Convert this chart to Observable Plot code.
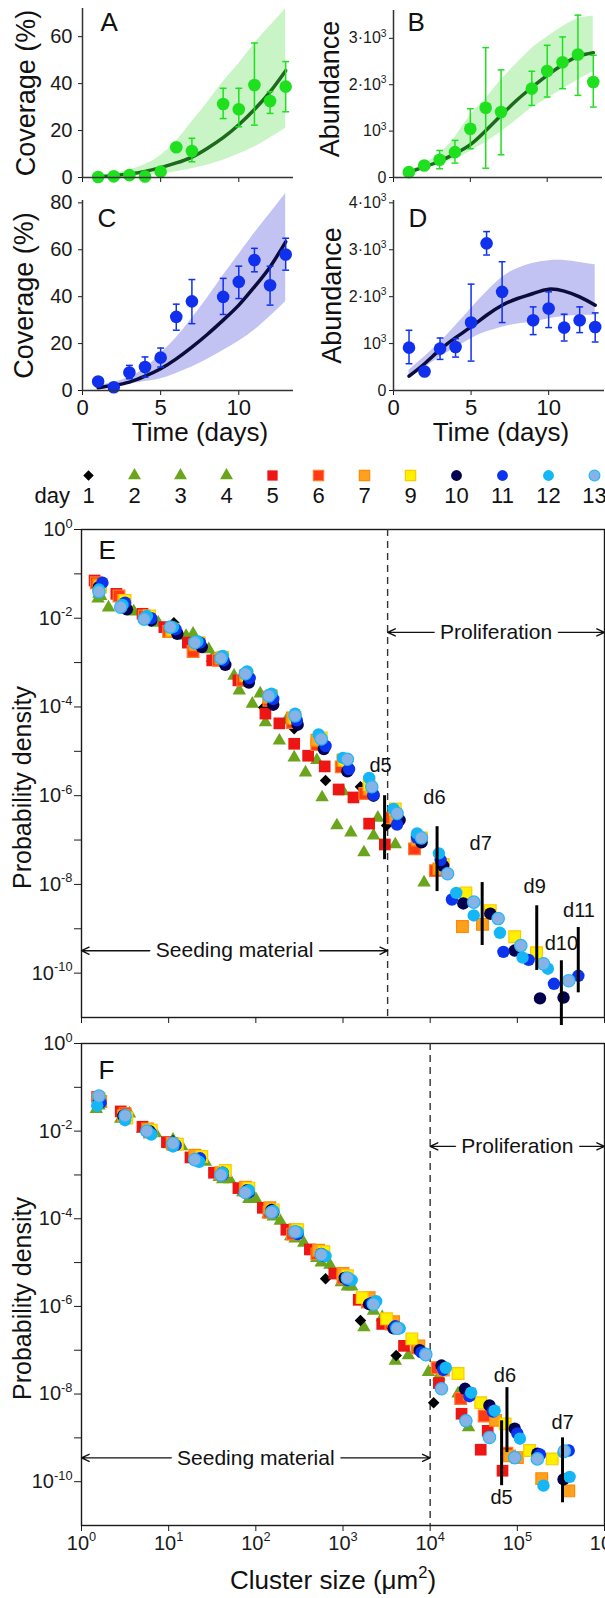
<!DOCTYPE html>
<html><head><meta charset="utf-8">
<script src="https://cdn.jsdelivr.net/npm/d3@7"></script>
<script src="https://cdn.jsdelivr.net/npm/@observablehq/plot@0.6"></script>
<style>
html,body{margin:0;padding:0;background:#fff;overflow:hidden;}
#chart{position:relative;width:605px;height:1598px;font-family:'Liberation Sans',Arial,Helvetica,sans-serif;}
#chart svg{position:absolute;overflow:visible;}
</style></head><body><div id="chart"></div>
<script>
// ---------------- DATA: growth panels (A-D) ----------------
const obsDays = [1,2,3,4,5,6,7,9,10,11,12,13];
const fitDays = [1,2,3,4,5,6,7,8,9,10,11,12,13];

const A_obs = [0.2, 0.5, 1.0, 0.4, 2.5, 12.9, 11.3, 31.3, 29.1, 39.4, 32.6, 38.7];
const A_hi  = [0.2, 0.5, 1.0, 0.4, 2.5, 12.9, 16.7, 38, 38, 57.3, 36.6, 49.4];
const A_lo  = [0.2, 0.5, 1.0, 0.4, 2.5, 12.9, 6.7, 25.1, 21.6, 22.3, 27.3, 28];
const A_fit = [0.3, 0.8, 1.5, 2.6, 4.2, 6.2, 8.7, 12.5, 17, 22.5, 29, 36.5, 45.5];
const A_up  = [0.8, 1.8, 3.2, 5.5, 9.4, 15.5, 23.7, 32, 40.8, 48.5, 57, 64.5, 72];
const A_low = [0, 0.3, 0.7, 1.0, 1.4, 2.4, 3.7, 5.3, 7.3, 10, 13, 16.8, 21];

const B_obs = [115, 259, 382, 547, 1051, 1505, 1411, 1915, 2296, 2484, 2650, 2058];
const B_hi  = [115, 300, 583, 800, 1483, 2800, 2320, 2290, 2850, 3030, 3500, 2635];
const B_lo  = [115, 220, 188, 310, 620, 200, 490, 1555, 1735, 1915, 1770, 1518];
const B_fit = [115, 230, 350, 515, 710, 1010, 1340, 1660, 1940, 2200, 2430, 2610, 2690];
const B_up  = [130, 300, 520, 870, 1340, 1700, 2100, 2450, 2780, 3030, 3250, 3420, 3480];
const B_low = [100, 190, 280, 400, 560, 760, 980, 1240, 1500, 1700, 1900, 2100, 2280];

const C_obs = [3.85, 1.4, 7.7, 10, 14, 31.4, 38, 39.9, 46.3, 55.6, 44.9, 58];
const C_hi  = [3.85, 1.4, 10.7, 14.3, 18.1, 36.8, 47.3, 47.8, 53, 60.6, 53, 64.9];
const C_lo  = [3.85, 1.4, 5.0, 5.7, 10, 25.7, 28.5, 32.4, 39.2, 50.6, 36.4, 51.3];
const C_fit = [1.2, 2.2, 3.6, 6.1, 9.3, 13.5, 18.5, 24, 30, 36.4, 44.2, 52.7, 63.4];
const C_up  = [2, 3.5, 5.7, 9.5, 15.7, 22.5, 30.7, 39.5, 49, 58, 67, 75.5, 84];
const C_low = [0.8, 1.5, 2.7, 3.8, 5, 7.3, 10, 13.3, 17.1, 21, 25.7, 31.5, 37.8];

const D_obs = [913, 406, 892, 927, 1448, 3137, 2103, 1497, 1747, 1341, 1497, 1355];
const D_hi  = [1283, 480, 1119, 1105, 2267, 3387, 2745, 1782, 2103, 1626, 1782, 1654];
const D_lo  = [571, 330, 663, 712, 627, 2888, 1448, 1191, 1341, 1055, 1234, 1034];
const D_fit = [306, 571, 870, 1127, 1355, 1604, 1818, 1961, 2068, 2160, 2118, 1996, 1818];
const D_up  = [430, 720, 1030, 1380, 1750, 2100, 2410, 2600, 2710, 2765, 2770, 2730, 2680];
const D_low = [250, 480, 713, 910, 1105, 1250, 1350, 1420, 1460, 1530, 1580, 1600, 1600];

const covTicksA = [0, 20, 40, 60];
const covTicksC = [0, 20, 40, 60, 80];
const abuTicksB = [0, 1000, 2000, 3000];
const abuTicksD = [0, 1000, 2000, 3000, 4000];
const timeTicks = [0, 5, 10];

// ---------------- DATA: legend / size distributions (E, F) ----------------
const dayLabels = ["1","2","3","4","5","6","7","9","10","11","12","13"];
// points are [log10(cluster size µm²), log10(probability density)]
const E_day1  = [[0.2,-1.35],[0.46,-1.7],[0.73,-1.98],[1.06,-2.1],[1.36,-2.62],[1.62,-2.95],[1.85,-3.3],[2.09,-4.01],[2.44,-4.49],[2.8,-5.66],[3.2,-5.8],[3.5,-6.67]];
const E_day2  = [[0.19,-1.56],[0.31,-1.76],[0.6,-1.85],[0.88,-2.1],[1.28,-2.35],[1.5,-2.9],[1.81,-3.63],[2.11,-4.35],[2.44,-5.14],[2.76,-6.04],[3.09,-6.83],[3.35,-6.9]];
const E_day3  = [[0.2,-1.45],[0.5,-1.7],[0.78,-2.0],[1.05,-2.25],[1.35,-2.6],[1.62,-2.95],[1.96,-3.93],[2.27,-4.76],[2.57,-5.48],[2.93,-6.67],[3.24,-7.28],[3.6,-7.1]];
const E_day4  = [[0.22,-1.5],[0.55,-1.8],[0.85,-2.1],[1.2,-2.4],[1.46,-2.7],[1.75,-3.3],[2.05,-3.7],[2.35,-4.3],[2.7,-5.2],[3.0,-5.9],[3.4,-6.5],[3.93,-7.96]];
const E_day5  = [[0.15,-1.15],[0.4,-1.45],[0.7,-1.9],[0.95,-2.2],[1.22,-2.55],[1.5,-2.95],[1.8,-3.4],[2.11,-4.15],[2.27,-4.37],[2.44,-4.83],[2.6,-5.1],[2.79,-5.34],[2.95,-5.86],[3.12,-6.04],[3.3,-6.63],[3.48,-7.1]];
const E_day6  = [[0.17,-1.2],[0.43,-1.5],[0.72,-1.95],[1.0,-2.3],[1.28,-2.75],[1.57,-2.95],[1.85,-3.4],[2.15,-3.85],[2.42,-4.35],[2.7,-4.85],[2.98,-5.35],[3.25,-5.95],[3.55,-6.5],[3.82,-7.2],[4.06,-7.69]];
const E_day7  = [[0.2,-1.25],[0.48,-1.6],[0.76,-2.0],[1.03,-2.3],[1.3,-2.6],[1.6,-2.9],[1.88,-3.3],[2.15,-3.78],[2.42,-4.25],[2.7,-4.75],[3.0,-5.2],[3.3,-5.85],[3.6,-6.5],[3.85,-7.0],[4.1,-7.65],[4.37,-8.95],[4.6,-8.9]];
const E_day9  = [[0.22,-1.3],[0.5,-1.6],[0.78,-1.95],[1.05,-2.25],[1.35,-2.55],[1.62,-2.88],[1.9,-3.3],[2.18,-3.75],[2.45,-4.25],[2.75,-4.7],[3.02,-5.2],[3.3,-5.75],[3.6,-6.3],[3.9,-6.95],[4.15,-7.55],[4.41,-8.19],[4.69,-8.59],[4.97,-9.18],[5.22,-9.54]];
const E_day10 = [[0.2,-1.3],[0.52,-1.8],[0.8,-2.05],[1.1,-2.35],[1.38,-2.65],[1.65,-3.05],[1.92,-3.45],[2.2,-3.95],[2.48,-4.4],[2.78,-4.95],[3.05,-5.45],[3.35,-6.0],[3.65,-6.55],[3.9,-7.05],[4.15,-7.58],[4.38,-8.43],[4.69,-8.66],[4.97,-9.49],[5.26,-10.57],[5.53,-10.55]];
const E_day11 = [[0.24,-1.2],[0.5,-1.65],[0.8,-2.0],[1.08,-2.25],[1.36,-2.55],[1.63,-2.95],[1.93,-3.35],[2.2,-3.82],[2.47,-4.3],[2.8,-4.88],[3.07,-5.4],[3.35,-5.98],[3.62,-6.65],[3.85,-6.95],[4.12,-7.45],[4.25,-8.34],[4.84,-9.52],[5.13,-9.7],[5.42,-10.24],[5.7,-10.06]];
const E_day12 = [[0.2,-1.35],[0.47,-1.7],[0.75,-1.95],[1.05,-2.2],[1.33,-2.52],[1.62,-2.85],[1.9,-3.2],[2.18,-3.7],[2.45,-4.15],[2.72,-4.62],[3.0,-5.15],[3.3,-5.6],[3.58,-6.3],[3.85,-6.85],[4.1,-7.3],[4.3,-8.19],[4.5,-8.7],[4.8,-9.09],[5.06,-9.65],[5.35,-9.9]];
const E_day13 = [[0.2,-1.4],[0.45,-1.75],[0.72,-2.02],[1.02,-2.2],[1.3,-2.55],[1.6,-2.9],[1.88,-3.25],[2.15,-3.75],[2.45,-4.2],[2.75,-4.72],[3.05,-5.18],[3.33,-5.8],[3.62,-6.4],[3.9,-6.95],[4.2,-7.76],[4.5,-8.4],[4.78,-8.77],[5.04,-9.38],[5.3,-9.79],[5.59,-10.17]];

const F_day1  = [[0.2,-1.4],[0.5,-1.58],[0.75,-1.95],[1.05,-2.22],[1.32,-2.6],[1.6,-2.95],[1.85,-3.3],[2.12,-3.8],[2.4,-4.3],[2.8,-5.37],[3.2,-6.32],[3.61,-7.12],[4.04,-8.2]];
const F_day2  = [[0.17,-1.5],[0.45,-1.72],[0.7,-1.95],[1.0,-2.3],[1.28,-2.6],[1.58,-3.05],[1.85,-3.4],[2.14,-3.9],[2.4,-4.4],[2.7,-4.9],[2.98,-5.45],[3.24,-6.48],[3.6,-7.24]];
const F_day3  = [[0.2,-1.42],[0.48,-1.65],[0.8,-2.0],[1.05,-2.2],[1.35,-2.65],[1.62,-3.1],[1.92,-3.55],[2.2,-3.95],[2.45,-4.45],[2.75,-5.0],[3.05,-5.55],[3.35,-6.1],[3.75,-7.12],[3.98,-7.5]];
const F_day4  = [[0.22,-1.38],[0.55,-1.6],[0.85,-2.05],[1.15,-2.35],[1.42,-2.7],[1.7,-3.1],[2.0,-3.55],[2.28,-4.05],[2.55,-4.55],[2.85,-5.05],[3.1,-5.55],[3.45,-6.25],[3.85,-6.95],[4.1,-7.6],[4.32,-7.99],[4.44,-8.76]];
const F_day5  = [[0.18,-1.22],[0.45,-1.55],[0.7,-1.9],[0.98,-2.25],[1.25,-2.6],[1.52,-2.95],[1.8,-3.3],[2.08,-3.75],[2.35,-4.25],[2.62,-4.7],[2.9,-5.25],[3.18,-5.85],[3.45,-6.4],[3.7,-6.9],[4.1,-7.75],[4.36,-8.45],[4.58,-9.27],[4.66,-8.84],[4.83,-9.75]];
const F_day6  = [[0.2,-1.28],[0.5,-1.6],[0.78,-2.02],[1.05,-2.3],[1.32,-2.62],[1.6,-2.98],[1.88,-3.35],[2.15,-3.85],[2.42,-4.35],[2.7,-4.8],[3.0,-5.35],[3.28,-5.9],[3.55,-6.4],[3.85,-6.95],[4.08,-7.4],[4.35,-8.1],[4.62,-8.5],[4.88,-9.35]];
const F_day7  = [[0.22,-1.32],[0.48,-1.65],[0.76,-1.95],[1.04,-2.28],[1.3,-2.55],[1.6,-2.95],[1.88,-3.28],[2.16,-3.75],[2.45,-4.25],[2.72,-4.72],[3.0,-5.25],[3.3,-5.8],[3.58,-6.35],[3.87,-6.9],[4.15,-7.45],[4.45,-8.0],[4.75,-8.6],[4.91,-9.41],[5.0,-9.45],[5.28,-9.93],[5.59,-10.21]];
const F_day9  = [[0.2,-1.25],[0.52,-1.7],[0.8,-1.98],[1.1,-2.3],[1.38,-2.58],[1.65,-2.9],[1.92,-3.3],[2.2,-3.8],[2.48,-4.25],[2.78,-4.75],[3.05,-5.3],[3.22,-5.8],[3.5,-6.28],[3.79,-6.74],[4.32,-7.53],[4.58,-8.2],[4.86,-8.68],[5.14,-9.29],[5.4,-9.48]];
const F_day10 = [[0.2,-1.3],[0.48,-1.65],[0.78,-2.0],[1.06,-2.3],[1.35,-2.65],[1.62,-2.95],[1.9,-3.35],[2.18,-3.8],[2.46,-4.3],[2.75,-4.8],[3.02,-5.35],[3.3,-5.95],[3.58,-6.5],[3.88,-7.0],[4.13,-7.35],[4.4,-7.88],[4.68,-8.26],[4.97,-8.79],[5.23,-9.36],[5.53,-9.95]];
const F_day11 = [[0.22,-1.35],[0.5,-1.7],[0.8,-2.05],[1.08,-2.32],[1.36,-2.62],[1.62,-3.0],[1.92,-3.4],[2.2,-3.85],[2.48,-4.35],[2.78,-4.85],[3.05,-5.4],[3.33,-5.92],[3.6,-6.45],[3.9,-7.05],[4.15,-7.45],[4.45,-8.05],[4.72,-8.4],[5.0,-8.9],[5.26,-9.38],[5.59,-9.29]];
const F_day12 = [[0.18,-1.42],[0.5,-1.75],[0.8,-2.08],[1.05,-2.35],[1.35,-2.7],[1.62,-2.95],[1.92,-3.35],[2.2,-3.82],[2.48,-4.3],[2.8,-4.85],[3.1,-5.4],[3.38,-5.88],[3.65,-6.5],[3.95,-7.08],[4.18,-7.4],[4.47,-7.97],[4.74,-8.38],[5.03,-9.02],[5.3,-10.09],[5.53,-9.33],[5.6,-9.89]];
const F_day13 = [[0.2,-1.2],[0.5,-1.65],[0.75,-2.0],[1.05,-2.28],[1.3,-2.65],[1.6,-3.0],[1.88,-3.4],[2.18,-3.85],[2.45,-4.3],[2.75,-4.82],[3.05,-5.35],[3.35,-5.95],[3.62,-6.5],[3.95,-7.1],[4.13,-7.88],[4.41,-8.61],[4.68,-8.99],[4.97,-9.45],[5.23,-9.48],[5.54,-9.3]];

const E_dash = 3.25e3, F_dash = 1e4;
const E_seedY = 3.2e-10, E_prolY = 4.8e-3;
const F_seedY = 3.5e-10, F_prolY = 4.5e-3;

const E_barLabel = ["d5","d6","d7","d9","d10","d11"];
const E_barX     = [3.0e3, 1.2e4, 3.95e4, 1.67e5, 3.2e5, 5.0e5];
const E_barTop   = [1.0e-6, 2.0e-7, 1.1e-8, 3.3e-9, 1.9e-10, 1.07e-9];
const E_barBot   = [3.6e-8, 6.9e-9, 4.2e-10, 1.15e-10, 6.6e-12, 3.6e-11];
const E_labX     = [2.7e3, 1.12e4, 3.8e4, 1.58e5, 3.2e5, 5.1e5];
const E_labY     = [4.8e-6, 9.1e-7, 8.3e-8, 8.9e-9, 4.7e-10, 2.6e-9];

const F_barLabel = ["d6","d5","d7"];
const F_barX     = [7.6e4, 6.6e4, 3.3e5];
const F_barTop   = [1.4e-8, 2.45e-9, 1.0e-9];
const F_barBot   = [4.6e-10, 8.1e-11, 3.3e-11];
const F_labX     = [7.2e4, 6.6e4, 3.3e5];
const F_labY     = [2.6e-8, 4.3e-11, 2.2e-9];

const sizeTicks = [1, 10, 100, 1e3, 1e4, 1e5, 1e6];
const densTicks = [1,1e-1,1e-2,1e-3,1e-4,1e-5,1e-6,1e-7,1e-8,1e-9,1e-10];

// ---------------- STYLES ----------------
const FONT = "'Liberation Sans', Arial, Helvetica, sans-serif";
const diamondSym = {draw(ctx, size){ const r = Math.sqrt(size/2); ctx.moveTo(0,-r); ctx.lineTo(r,0); ctx.lineTo(0,r); ctx.lineTo(-r,0); ctx.closePath(); }};
const daySymbol = [diamondSym,"triangle","triangle","triangle","square","square","square","square","circle","circle","circle","circle"];
const dayFill   = ["#000000","#6aa51c","#6aa51c","#6aa51c","#ee1515","#ff3a14","#ffa01e","#fff000","#02024e","#0c34ee","#14b6f6","#86b2e6"];
const dayStroke = ["none","none","none","none","none","#ff7a2a","#ff8a00","#ffc800","none","none","none","#22b8f8"];
const dayR      = [4.6,5,5,5,6.6,6.6,6.6,6.6,6.2,6.2,6.2,6.2];
const legendR   = [4.2,4.8,4.8,4.8,5.8,5.8,5.8,5.8,5.4,5.4,5.4,5.4];
const drawOrder = [1,2,3,0,4,5,6,7,8,9,10,11];

const chart = document.getElementById("chart");
function place(svg, left, top){ svg.style.left = left+"px"; svg.style.top = top+"px"; chart.appendChild(svg); }

function growthPanel(o){
  const obsRows = obsDays.map((d,i)=>({day:d, v:o.obs[i], hi:o.hi[i], lo:o.lo[i]}));
  const fitRows = fitDays.map((d,i)=>({day:d, fit:o.fit[i], up:o.up[i], low:o.low[i]}));
  const marks = [
    Plot.areaY(fitRows, {x:"day", y1:"low", y2:"up", fill:o.band, curve:"natural"}),
    Plot.line(fitRows, {x:"day", y:"fit", stroke:o.line, strokeWidth:3.5, curve:"natural"}),
    Plot.ruleX(obsRows, {x:"day", y1:"lo", y2:"hi", stroke:o.color, strokeWidth:1.5}),
    Plot.link(obsRows, {x1:d=>d.day-0.22, x2:d=>d.day+0.22, y1:"hi", y2:"hi", stroke:o.color, strokeWidth:1.5}),
    Plot.link(obsRows, {x1:d=>d.day-0.22, x2:d=>d.day+0.22, y1:"lo", y2:"lo", stroke:o.color, strokeWidth:1.5}),
    Plot.dot(obsRows, {x:"day", y:"v", r:6.3, fill:o.color}),
    Plot.ruleX([0], {stroke:"#333", strokeWidth:1.5}),
    Plot.ruleY([0], {stroke:"#333", strokeWidth:1.5}),
    Plot.text([o.ylabel], {frameAnchor:"left", textAnchor:"middle", lineAnchor:"middle", rotate:-90, dx:o.ylDx, dy:o.ylDy, fontSize:27, fill:"#111"}),
    Plot.text([o.letter], {frameAnchor:"top-left", textAnchor:"start", lineAnchor:"middle", dx:o.lDx, dy:o.lDy, fontSize:26, fill:"#111"})
  ];
  if (o.xLabels) {
    marks.push(Plot.text(timeTicks, {x:d=>d, text:d=>String(d), frameAnchor:"bottom", lineAnchor:"middle", dy:17, fontSize:22, fill:"#111"}));
    marks.push(Plot.text(["Time (days)"], {frameAnchor:"bottom", textAnchor:"middle", lineAnchor:"middle", dx:o.tDx, dy:42, fontSize:26, fill:"#111"}));
  }
  return Plot.plot({
    width:o.width, height:o.height, marginLeft:o.ml, marginRight:o.mr, marginTop:o.mt, marginBottom:o.mb,
    style:{background:"transparent", overflow:"visible", fontFamily:FONT, fontSize:o.tickFont+"px", color:"#1a1a1a"},
    x:{domain:o.xDomain, ticks:timeTicks, tickFormat:()=>"", tickSize:5, label:null},
    y:{domain:o.yDomain, ticks:o.yTicks, tickFormat:o.yFormat, tickSize:4, tickPadding:o.tickPad, label:null},
    marks
  });
}

const abuFmt = d => d===0 ? "0" : d===1000 ? "10^{3}" : `${d/1000}·10^{3}`;
const covFmt = d => String(d);

place(growthPanel({obs:A_obs,hi:A_hi,lo:A_lo,fit:A_fit,up:A_up,low:A_low,color:"#1fe01f",band:"#c9f5c6",line:"#1c6a1c",
  ylabel:"Coverage (%)",letter:"A",width:300,height:190,ml:82,mr:7,mt:8,mb:13,xDomain:[0,13.5],yDomain:[0,72],
  yTicks:covTicksA,yFormat:covFmt,tickFont:20,tickPad:6,ylDx:-56,ylDy:0,lDx:18,lDy:14,xLabels:false}),0,0);
place(growthPanel({obs:B_obs,hi:B_hi,lo:B_lo,fit:B_fit,up:B_up,low:B_low,color:"#1fe01f",band:"#c9f5c6",line:"#1c6a1c",
  ylabel:"Abundance",letter:"B",width:305,height:190,ml:93,mr:3,mt:10,mb:13,xDomain:[0,13.6],yDomain:[0,3600],
  yTicks:abuTicksB,yFormat:abuFmt,tickFont:16,tickPad:3,ylDx:-63,ylDy:-5,lDx:14,lDy:12,xLabels:false}),300,0);
place(growthPanel({obs:C_obs,hi:C_hi,lo:C_lo,fit:C_fit,up:C_up,low:C_low,color:"#1030ee",band:"#c3c3f3",line:"#0b0b3d",
  ylabel:"Coverage (%)",letter:"C",width:300,height:250,ml:82,mr:7,mt:10,mb:50,xDomain:[0,13.5],yDomain:[0,81],
  yTicks:covTicksC,yFormat:covFmt,tickFont:20,tickPad:6,ylDx:-58,ylDy:0,lDx:15,lDy:18,xLabels:true,tDx:12}),0,190);
place(growthPanel({obs:D_obs,hi:D_hi,lo:D_lo,fit:D_fit,up:D_up,low:D_low,color:"#1030ee",band:"#c3c3f3",line:"#0b0b3d",
  ylabel:"Abundance",letter:"D",width:305,height:250,ml:93,mr:1,mt:10,mb:50,xDomain:[0,13.6],yDomain:[0,4050],
  yTicks:abuTicksD,yFormat:abuFmt,tickFont:16,tickPad:3,ylDx:-61,ylDy:0,lDx:15,lDy:18,xLabels:true,tDx:2}),300,190);

// ---------------- legend ----------------
const legendMarks = dayLabels.map((d,i)=>Plot.dot([d], {x:v=>v, symbol:daySymbol[i], fill:dayFill[i], stroke:dayStroke[i], strokeWidth:1.2, r:legendR[i]}));
legendMarks.push(Plot.text(dayLabels, {x:d=>d, dy:20, fontSize:22, fill:"#111"}));
legendMarks.push(Plot.text(["day"], {frameAnchor:"left", textAnchor:"start", lineAnchor:"middle", dx:34, dy:20, fontSize:22, fill:"#111"}));
place(Plot.plot({
  width:605, height:55, marginLeft:0, marginRight:0, marginTop:0, marginBottom:15,
  style:{background:"transparent", overflow:"visible", fontFamily:FONT, color:"#1a1a1a"},
  x:{type:"point", domain:dayLabels, range:[87,595], padding:0, axis:null},
  marks:legendMarks
}), 0, 455);

// ---------------- E & F ----------------
function distPanel(o){
  const seedMid = Math.sqrt(1*o.dash), prolMid = Math.sqrt(o.dash*1e6);
  const marks = [
    Plot.frame({stroke:"#1a1a1a", strokeWidth:1.4}),
    Plot.ruleX([o.dash], {stroke:"#333", strokeWidth:1.4, strokeDasharray:"7,5"}),
    Plot.arrow([{a:seedMid,b:1,y:o.seedY},{a:seedMid,b:o.dash,y:o.seedY},{a:prolMid,b:o.dash,y:o.prolY},{a:prolMid,b:1e6,y:o.prolY}],
      {x1:"a", x2:"b", y1:"y", y2:"y", stroke:"#111", strokeWidth:1.4, headLength:9, headAngle:50}),
    Plot.text([{x:seedMid,y:o.seedY,t:"Seeding material"},{x:prolMid,y:o.prolY,t:"Proliferation"}],
      {x:"x", y:"y", text:"t", fontSize:21, fill:"#111", stroke:"white", strokeWidth:14})
  ];
  drawOrder.forEach(i=>{
    const rows = o.days[i].map(([lx,ly])=>({size:10**lx, dens:10**ly}));
    marks.push(Plot.dot(rows, {x:"size", y:"dens", symbol:daySymbol[i], fill:dayFill[i], stroke:dayStroke[i], strokeWidth:1.2, r:dayR[i]}));
  });
  const barRows = o.barLabel.map((l,i)=>({l, x:o.barX[i], y1:o.barTop[i], y2:o.barBot[i], tx:o.labX[i], ty:o.labY[i]}));
  marks.push(Plot.ruleX(barRows, {x:"x", y1:"y1", y2:"y2", stroke:"#000", strokeWidth:3}));
  marks.push(Plot.text(barRows, {x:"tx", y:"ty", text:"l", fontSize:20, fill:"#111"}));
  marks.push(Plot.text([o.letter], {frameAnchor:"top-left", textAnchor:"start", lineAnchor:"middle", dx:17, dy:o.lDy, fontSize:26, fill:"#111"}));
  marks.push(Plot.text(["Probability density"], {frameAnchor:"left", textAnchor:"middle", lineAnchor:"middle", rotate:-90, dx:-59, dy:14, fontSize:25, fill:"#111"}));
  if (o.xLabels) marks.push(Plot.text(["Cluster size (μm^{2})"], {frameAnchor:"bottom", textAnchor:"middle", lineAnchor:"middle", dx:-10, dy:55, fontSize:26, fill:"#111"}));
  return Plot.plot({
    width:605, height:o.height, marginLeft:81, marginRight:1, marginTop:o.mt, marginBottom:o.mb,
    style:{background:"transparent", overflow:"visible", fontFamily:FONT, fontSize:"20px", color:"#1a1a1a"},
    x:{type:"log", domain:[1,1e6], ticks:sizeTicks, tickFormat:o.xLabels ? (d=>`10^{${Math.round(Math.log10(d))}}`) : (()=>""), tickSize:6, tickPadding:4, label:null},
    y:{type:"log", domain:[1e-11,1], ticks:densTicks, tickFormat:d=>{const e=Math.round(Math.log10(d)); return e%2===0 ? `10^{${e}}` : "";}, tickSize:7, tickPadding:2, label:null},
    marks
  });
}

place(distPanel({days:[E_day1,E_day2,E_day3,E_day4,E_day5,E_day6,E_day7,E_day9,E_day10,E_day11,E_day12,E_day13],
  dash:E_dash, seedY:E_seedY, prolY:E_prolY, barLabel:E_barLabel, barX:E_barX, barTop:E_barTop, barBot:E_barBot, labX:E_labX, labY:E_labY,
  letter:"E", lDy:21, height:515, mt:14, mb:13, xLabels:false}), 0, 515);
place(distPanel({days:[F_day1,F_day2,F_day3,F_day4,F_day5,F_day6,F_day7,F_day9,F_day10,F_day11,F_day12,F_day13],
  dash:F_dash, seedY:F_seedY, prolY:F_prolY, barLabel:F_barLabel, barX:F_barX, barTop:F_barTop, barBot:F_barBot, labX:F_labX, labY:F_labY,
  letter:"F", lDy:27, height:568, mt:13, mb:73, xLabels:true}), 0, 1030);

// ---------------- superscripts ----------------
function supify(root){
  const NS = "http://www.w3.org/2000/svg";
  root.querySelectorAll("text").forEach(t=>{
    const s = t.textContent;
    if (!s.includes("^{")) return;
    const fs = parseFloat(getComputedStyle(t).fontSize) || 16;
    const parts = s.split(/\^\{([^}]*)\}/);
    while (t.firstChild) t.removeChild(t.firstChild);
    let shifted = 0;
    parts.forEach((p,i)=>{
      if (i%2===1) {
        const ts = document.createElementNS(NS,"tspan");
        const up = -fs*0.42;
        ts.setAttribute("dy", up - shifted); shifted = up;
        ts.setAttribute("font-size", (fs*0.64)+"px");
        ts.textContent = p; t.appendChild(ts);
      } else if (p) {
        const ts = document.createElementNS(NS,"tspan");
        if (shifted) { ts.setAttribute("dy", -shifted); shifted = 0; }
        ts.textContent = p; t.appendChild(ts);
      }
    });
  });
}
supify(chart);
</script></body></html>
